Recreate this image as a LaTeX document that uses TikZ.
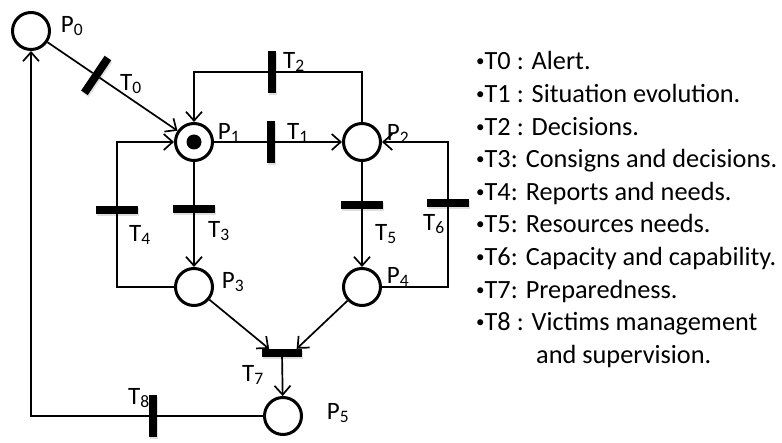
\documentclass[tikz,border=0pt]{standalone}
\usepackage{fontspec}
\setmainfont{Carlito}
\usetikzlibrary{arrows.meta,calc,shadows}
\newcommand{\bul}{\raisebox{3pt}{\fontsize{17}{17}\selectfont•}}
\tikzset{
  place/.style={circle, draw, line width=3pt, minimum size=37pt, inner sep=0pt},
  token/.style={circle, fill, minimum size=15pt, inner sep=0pt},
  vbar/.style={rectangle, fill, inner sep=0pt, minimum width=8pt, minimum height=42pt,
               drop shadow={opacity=0.25, shadow xshift=1pt, shadow yshift=-2pt}},
  hbar/.style={vbar, minimum width=42pt, minimum height=8pt},
  arc/.style={line width=1.7pt},
  arcto/.style={arc, -{Straight Barb[length=9pt, width=16pt, line width=1.7pt]}},
  lab/.style={font=\fontsize{25}{28}\selectfont, inner sep=0pt},
  legtxt/.style={font=\fontsize{26.3}{32.6}\selectfont, align=left, inner sep=0pt},
}

\begin{document}
\begin{tikzpicture}[x=1pt, y=-1pt]
  \useasboundingbox (0,0) rectangle (782,443);
  % places
  \node[place] (P0) at (31,31) {};
  \node[place] (P1) at (194,142) {};
  \node[place] (P2) at (362,142) {};
  \node[place] (P3) at (194,287) {};
  \node[place] (P4) at (362,287) {};
  \node[place] (P5) at (283,416) {};
  \node[token] (tok) at (P1) {};
  % transitions
  \node[vbar, rotate=-34] (T0) at ($(P0)!0.4!(P1)$) {};
  \node[vbar] (T1) at (271,142) {};
  \node[vbar] (T2) at (272,72) {};
  \node[hbar] (T3) at (194,209) {};
  \node[hbar] (T4) at (117,210) {};
  \node[hbar] (T5) at (362,205) {};
  \node[hbar] (T6) at (448,203) {};
  \node[hbar, minimum width=40pt] (T7) at (282,353) {};
  \node[vbar] (T8) at (153,416) {};
  % arcs
  \draw[arc] (P0) -- (T0);
  \draw[arcto] (T0) -- (P1);
  \draw[arc] (P1) -- (T1);
  \draw[arcto] (T1) -- (P2);
  \draw[arc] (P2) |- (T2);
  \draw[arcto] (T2) -| (P1);
  \draw[arc] (P1) -- (T3);
  \draw[arcto] (T3) -- (P3);
  \draw[arc] (P3) -| (T4);
  \draw[arcto] (T4) |- (P1);
  \draw[arc] (P2) -- (T5);
  \draw[arcto] (T5) -- (P4);
  \draw[arc] (P4) -| (T6);
  \draw[arcto] (T6) |- (P2);
  \draw[arcto] (P3) -- (T7.162);
  \draw[arcto] (P4) -- (T7.16);
  \draw[arcto] (T7) -- (P5);
  \draw[arc] (P5) -- (T8);
  \draw[arcto] (T8) -| (P0);
  % labels
  \node[lab] (lP0) at (72,26) {P\textsubscript{0}};
  \node[lab] (lP1) at (229,133) {P\textsubscript{1}};
  \node[lab] (lP2) at (398,134) {P\textsubscript{2}};
  \node[lab] (lP3) at (233,282) {P\textsubscript{3}};
  \node[lab] (lP4) at (398,277) {P\textsubscript{4}};
  \node[lab] (lP5) at (338,413) {P\textsubscript{5}};
  \node[lab] (lT0) at (131,84) {T\textsubscript{0}};
  \node[lab] (lT1) at (298,133) {T\textsubscript{1}};
  \node[lab] (lT2) at (294,62) {T\textsubscript{2}};
  \node[lab] (lT3) at (219,231) {T\textsubscript{3}};
  \node[lab] (lT4) at (140,235) {T\textsubscript{4}};
  \node[lab] (lT5) at (386,234) {T\textsubscript{5}};
  \node[lab] (lT6) at (434,224) {T\textsubscript{6}};
  \node[lab] (lT7) at (253,375) {T\textsubscript{7}};
  \node[lab] (lT8) at (139,398) {T\textsubscript{8}};
  % legend
  \node[legtxt, anchor=north west] (legend) at (476,51.5)
    {\bul T0 : Alert.\\
     \bul T1 : Situation evolution.\\
     \bul T2 : Decisions.\\
     \bul T3: Consigns and decisions.\\
     \bul T4: Reports and needs.\\
     \bul T5: Resources needs.\\
     \bul T6: Capacity and capability.\\
     \bul T7: Preparedness.\\
     \bul T8 : Victims management\\
     \hspace*{60pt}and supervision.};
\end{tikzpicture}
\end{document}
